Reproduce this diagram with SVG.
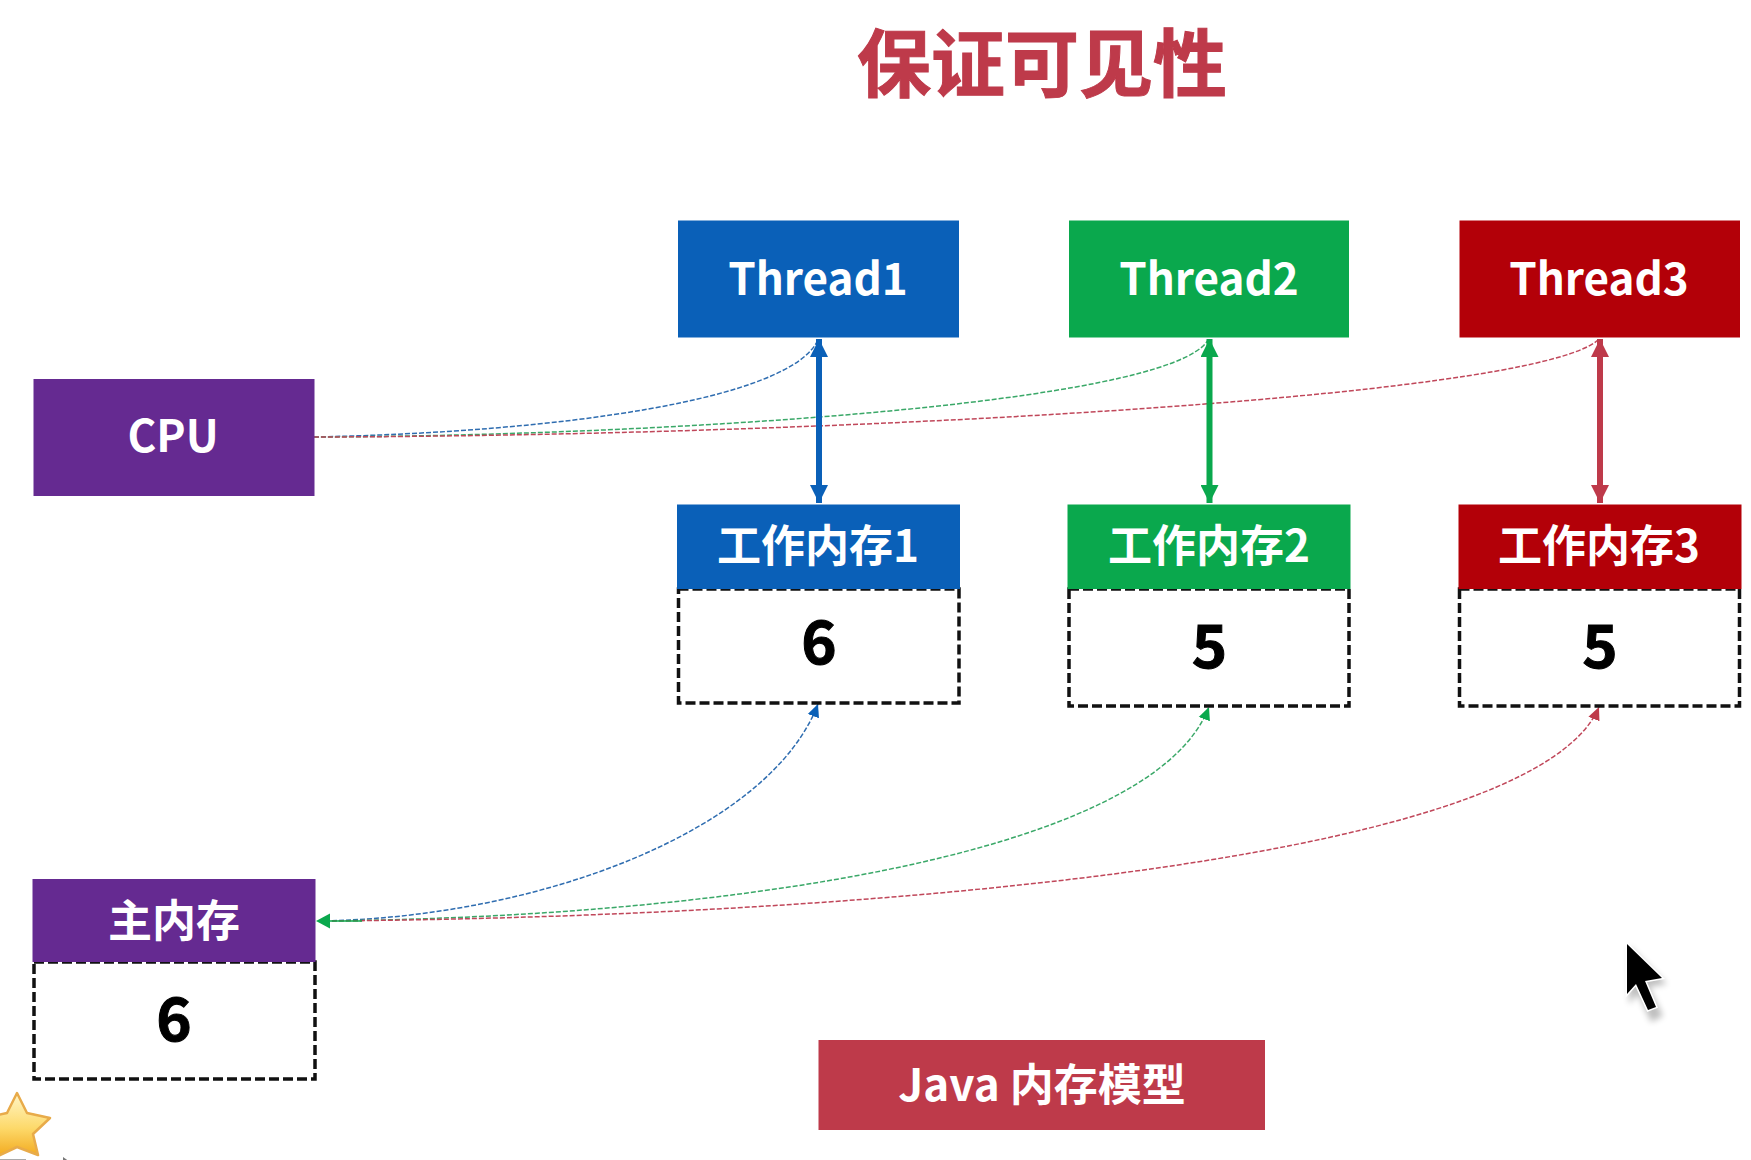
<svg xmlns="http://www.w3.org/2000/svg" width="1751" height="1160" viewBox="0 0 1751 1160">
<style>
text{font-family:"Noto Sans CJK SC","Noto Sans",sans-serif;text-anchor:middle;font-weight:700}
.l{fill:#fff;font-size:44px}
.t{fill:#be3a4a;font-size:74px;stroke:#be3a4a;stroke-width:1}
.n{fill:#000;font-size:60px;stroke:#000;stroke-width:1}
.d{fill:#fff;stroke:#111;stroke-width:3.500;stroke-dasharray:10 4}
.c{fill:none;stroke-width:1.500;stroke-dasharray:5 2}
.b{fill:#0a60b8}.g{fill:#0aa84d}.r{fill:#b30008}.p{fill:#652a91}.m{fill:#be3a4a}
</style>
<defs>
<marker id="ab" markerUnits="userSpaceOnUse" markerWidth="20" markerHeight="18" refX="18" refY="9" orient="auto-start-reverse"><path d="M0 0L18 9L0 18Z" fill="#0a60b8"/></marker>
<marker id="ag" markerUnits="userSpaceOnUse" markerWidth="20" markerHeight="18" refX="18" refY="9" orient="auto-start-reverse"><path d="M0 0L18 9L0 18Z" fill="#0aa84d"/></marker>
<marker id="ar" markerUnits="userSpaceOnUse" markerWidth="20" markerHeight="18" refX="18" refY="9" orient="auto-start-reverse"><path d="M0 0L18 9L0 18Z" fill="#be3a4a"/></marker>
<marker id="sb" markerUnits="userSpaceOnUse" markerWidth="14" markerHeight="14" refX="13" refY="7" orient="auto"><path d="M0 1L13 7L0 13Z" fill="#0a60b8"/></marker>
<marker id="sg" markerUnits="userSpaceOnUse" markerWidth="14" markerHeight="14" refX="13" refY="7" orient="auto"><path d="M0 1L13 7L0 13Z" fill="#0aa84d"/></marker>
<marker id="sr" markerUnits="userSpaceOnUse" markerWidth="14" markerHeight="14" refX="13" refY="7" orient="auto"><path d="M0 1L13 7L0 13Z" fill="#be3a4a"/></marker>
<linearGradient id="star" x1="0" y1="0" x2="0" y2="1"><stop offset="0" stop-color="#fff6c8"/><stop offset=".55" stop-color="#fdd96a"/><stop offset="1" stop-color="#f2a81c"/></linearGradient>
<filter id="sh" x="-30%" y="-30%" width="160%" height="160%"><feGaussianBlur stdDeviation="3"/></filter>
</defs>
<text class="t" x="1042" y="91">保证可见性</text>
<g id="connectors">
<path class="c" stroke="#2f6db0" d="M314 437C560 432 790 400 818 340"/>
<path class="c" stroke="#3aa868" d="M314 437C650 436 1170 405 1208 340"/>
<path class="c" stroke="#c0475a" d="M314 437C800 436 1530 400 1598 340"/>
<path fill="none" stroke="#0a60b8" stroke-width="6" d="M819 339V503" marker-start="url(#ab)" marker-end="url(#ab)"/>
<path fill="none" stroke="#0aa84d" stroke-width="6" d="M1209.500 339V503" marker-start="url(#ag)" marker-end="url(#ag)"/>
<path fill="none" stroke="#be3a4a" stroke-width="6" d="M1600 339V503" marker-start="url(#ar)" marker-end="url(#ar)"/>
<path class="c" stroke="#2f6db0" d="M318 921C540 918 770 830 818 704" marker-end="url(#sb)"/>
<path class="c" stroke="#3aa868" d="M318 921C700 918 1150 860 1209 707" marker-end="url(#sg)"/>
<path class="c" stroke="#c0475a" d="M318 921C800 918 1530 870 1599 707" marker-end="url(#sr)"/>
<path fill="none" stroke="#0aa84d" stroke-width="1.500" d="M330 921H362"/>
<path d="M316 921L330 913.500V928.500Z" class="g"/>
</g>
<g id="thread1"><rect class="b" x="678" y="220.500" width="281" height="117"/><text class="l" x="818" y="295">Thread1</text></g>
<g id="thread2"><rect class="g" x="1069" y="220.500" width="280" height="117"/><text class="l" x="1209" y="295">Thread2</text></g>
<g id="thread3"><rect class="r" x="1459.500" y="220.500" width="280.500" height="117"/><text class="l" x="1599" y="295">Thread3</text></g>
<g id="cpu"><rect class="p" x="33.500" y="379" width="281" height="117"/><text class="l" x="173" y="452">CPU</text></g>
<g id="wm1"><rect class="d" x="678.500" y="589" width="280.500" height="114"/><rect class="b" x="677" y="504.500" width="283" height="84.500"/><text class="l" x="818" y="562">工作内存1</text><text class="n" x="819" y="664">6</text></g>
<g id="wm2"><rect class="d" x="1069" y="589" width="280" height="117"/><rect class="g" x="1067.500" y="504.500" width="283" height="84.500"/><text class="l" x="1209" y="562">工作内存2</text><text class="n" x="1209.500" y="668">5</text></g>
<g id="wm3"><rect class="d" x="1459.500" y="589" width="280" height="117"/><rect class="r" x="1458.500" y="504.500" width="283" height="84.500"/><text class="l" x="1599" y="562">工作内存3</text><text class="n" x="1600" y="668">5</text></g>
<g id="main"><rect class="d" x="34" y="962" width="281" height="117"/><rect class="p" x="32.500" y="879" width="283" height="83"/><text class="l" x="174" y="937">主内存</text><text class="n" x="174" y="1041">6</text></g>
<g id="java"><rect class="m" x="818.500" y="1040" width="446.500" height="90"/><text class="l" x="1042" y="1101">Java 内存模型</text></g>
<path d="M17 1093L27 1113L50 1118L33 1134L38 1155L17 1147L-4 1157L-2 1134L-16 1118L7 1113Z" fill="url(#star)" stroke="#e8ab4a" stroke-width="2.500" stroke-linejoin="round"/>
<path d="M63 1157L70 1162H63Z" fill="#777"/>
<path d="M0 1159H26V1160H0Z" fill="#aaa"/>
<path d="M1626 942L1664 980L1646 983L1660 1012L1648 1018L1635 990L1626 1000Z" fill="#000" opacity=".25" transform="translate(3 4)" filter="url(#sh)"/>
<path d="M1627 944L1662 978L1645 981L1656 1007L1648 1010L1636 984L1627 994Z" fill="#000" stroke="#fff" stroke-width="3" paint-order="stroke"/>
</svg>
